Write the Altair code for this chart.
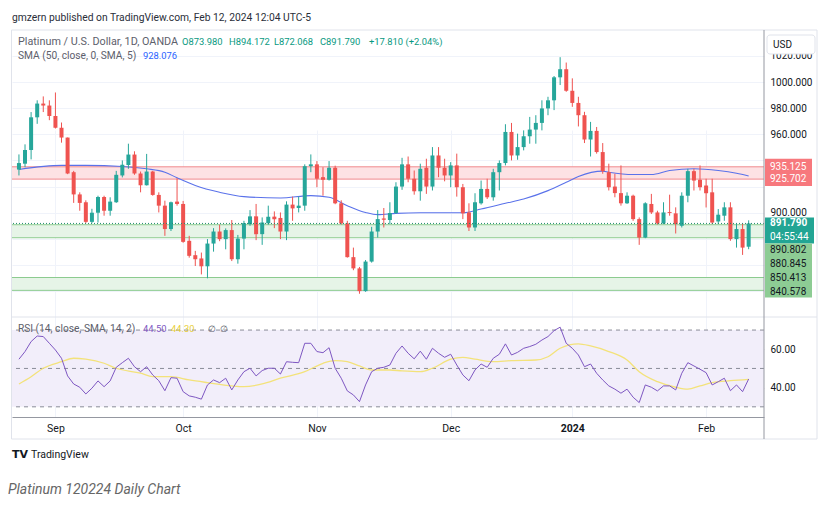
import altair as alt
import pandas as pd

# ---------------- data ----------------
bar_index = list(range(121))
open_ = [933, 937.5, 948, 973, 983.5, 982, 974, 965, 957.5, 931, 914, 908, 893, 900, 912, 901.5,
         908, 928.5, 936.5, 944.5, 930, 921, 931.5, 913.6, 905.4, 887.5, 908.5, 906.7, 878.5, 867.5,
         865, 859, 876.4, 885.6, 879.8, 886.7, 864.4, 880.2, 891.3, 897.2, 883.6, 892, 897, 896,
         885.6, 906.2, 903.6, 905.4, 935.6, 937, 927.2, 925.2, 934.4, 907.2, 891.8, 866, 857.4, 840,
         862.6, 885.6, 895.6, 894.4, 899.8, 920, 937, 926, 916.4, 934.4, 920, 943.8, 934.4, 928.5,
         936.2, 919.5, 900.2, 888.7, 907.2, 918.2, 911.8, 931, 938, 961.8, 943.8, 950.2, 958.5,
         963.6, 968.7, 979.8, 986, 1003.6, 1009.8, 993.3, 984, 974.6, 956, 962.6, 946.4, 931, 920,
         915, 907.2, 913, 895.1, 881, 906.7, 900.2, 891.8, 900.5, 899.5, 890, 913, 931.8, 925.2,
         920.8, 915.6, 893.3, 897.7, 904.1, 879.8, 887.5, 873.98]
high_ = [944.6, 952.3, 977, 986, 989, 986, 992, 969, 957.5, 932, 915.6, 909.5, 903, 913, 913, 911.8,
         932, 940, 952.8, 947, 931.5, 945, 932, 915.6, 909.2, 908.5, 926.4, 909, 882.3, 870.8,
         869.5, 879.8, 888.2, 890.8, 888, 894.4, 883, 893.8, 902, 906.7, 896.4, 905.4, 901, 900.2,
         908.7, 912.3, 912.3, 937, 944.6, 939.5, 934.8, 939.5, 936, 909.5, 893.8, 873.3, 858.5, 863.8,
         889.2, 902, 903.6, 908, 923.3, 942, 943, 932.3, 937.5, 941.3, 950.2, 950.2, 941.3, 938.7,
         945.2, 922, 907.2, 914.9, 924.6, 926, 933.6, 940, 967.7, 968.7, 960.5, 963, 973.3,
         974.6, 986, 988.7, 1004.6, 1019, 1014.9, 1002.8, 988.7, 977.2, 969.5, 965.6, 953.3, 937.5, 929.8,
         936.2, 915.6, 913.8, 896.4, 908, 914.4, 901.5, 908, 913.8, 904.1, 915.6, 933.6, 933.6, 936.2,
         926, 926, 902.8, 908, 908, 891.3, 891.8, 894.172]
low_ = [928.5, 934.8, 940.8, 968, 977, 970.8, 964.4, 953.6, 929.5, 907.5, 901.5, 892, 892, 892.5, 897.7, 897.7,
        907.5, 927, 933.6, 929, 915.6, 920.8, 913, 900.2, 882.3, 886, 905.4, 877, 865.6, 859.2,
        852.8, 849.8, 870.2, 878.2, 872, 863, 861, 872, 890, 879, 875.4, 890.8, 888.2, 879.8,
        879, 893.8, 900.2, 901.5, 931, 919.5, 913, 924.6, 906.5, 891, 865.6, 856, 838, 839.5,
        861.8, 881, 888.7, 891.3, 899, 917.5, 923.3, 913.8, 909.2, 914.4, 917, 927.2, 924, 919.5,
        912.3, 895.1, 886, 886, 906.2, 910.5, 909.2, 917, 936.2, 940, 940.5, 947.7, 952.8,
        952.8, 963, 974.6, 978.5, 997.7, 992.5, 981, 966, 953.3, 943, 945.2, 929.8, 917, 911.8,
        905.4, 906.7, 893.8, 875.4, 880.5, 899, 891, 891.3, 897.7, 884.1, 888.7, 908, 917, 917,
        904, 891.3, 891.3, 893.8, 878.5, 873.3, 867.7, 872.068]
close_ = [938, 948, 973, 983.5, 982, 974, 965, 957.5, 930, 914, 907.5, 893, 900, 912, 901.5, 908.5,
          929, 936.7, 944.5, 930, 921, 931.5, 913.6, 905.4, 887.5, 908, 906.7, 877.7, 867, 864.4,
          859, 876.4, 885.6, 879.8, 886.7, 864.4, 880.2, 892, 897.2, 883.6, 892.5, 897, 895, 885.6,
          906.2, 903.3, 905.4, 935.6, 937, 926, 925.2, 934.4, 907.2, 891.8, 866, 857.4, 840, 862.6,
          885.6, 895.1, 894.6, 899.8, 920, 937, 926, 916.4, 933.6, 920, 943.8, 934.4, 928.5, 936.2,
          919.5, 899.5, 888.7, 908, 918.2, 911.8, 931, 938, 961.8, 943.8, 950.2, 958.5, 963.6,
          968.7, 979.8, 986, 1003.6, 1009.8, 993.3, 984, 974.6, 956, 962.6, 946.4, 931.8, 919.5, 915,
          907.2, 913, 895.1, 881, 907.2, 900.2, 891.8, 900.2, 899.8, 891.3, 913, 931.8, 924.6, 919.5,
          914.9, 892.5, 898.5, 904.1, 879.8, 887.5, 873.3, 891.79]
rsi_ = [54.8, 58.8, 64, 66.9, 66.6, 63.1, 59.6, 55.3, 46.1, 41.9, 40.2, 36.7, 39.7, 43.5, 40.5, 43.5,
        50.6, 53, 55.3, 50.9, 48.3, 50.9, 46.6, 43.6, 38.4, 45.2, 44.9, 37.9, 35.7, 35, 34, 41.4,
        44, 42.6, 44.9, 38.8, 44, 48.3, 50.1, 46.1, 48.9, 50.1, 50.1, 47.1, 53.5, 53.2, 53, 63.1,
        63.1, 58.8, 58.2, 60.8, 50.1, 44.9, 38.3, 36.2, 32.7, 41.4, 48.3, 50.1, 50.6, 51.8, 57.9,
        61.7, 57.9, 55, 59, 54.8, 60.5, 57.9, 55.8, 57.4, 51.8, 46.6, 43.6, 49.2, 52.3, 50.6, 55.3,
        57.4, 62.8, 57, 58.4, 60.5, 61.4, 62.6, 64.8, 66.6, 69.7, 71.5, 63.1, 60.5, 57, 50.9, 52.3,
        47.5, 44, 40.9, 39.2, 37.1, 39.2, 35, 32.2, 41.4, 40.2, 38.3, 40.9, 40.9, 38.8, 47.5, 53,
        51.3, 49.6, 47.8, 41.4, 43.1, 44.9, 38.4, 41.4, 37.9, 44.5]
sma_bar = [0, 7, 11, 17, 21, 24, 26, 29, 33, 37, 43, 48, 51, 54, 57, 59, 62, 66, 73, 76, 80, 83,
           87, 90, 92, 96, 97, 101, 104, 107, 111, 115, 118, 120]
sma_val = [933.1, 936.2, 936.2, 935.4, 933.6, 931, 926.7, 920.8, 915.6, 912.3, 911.3, 913.1, 911.8,
           905.4, 900.2, 898.5, 899.5, 900, 900, 902.8, 907.2, 910.5, 916.9, 923.3, 927.7, 931.8,
           931, 929.2, 929.2, 932.3, 933.6, 932.3, 930.2, 928.076]
rsima_bar = [0, 2, 4, 7, 9, 11, 14, 16, 20, 22, 25, 28, 31, 35, 37, 40, 43, 47, 50, 52, 54, 56, 58,
             61, 63, 66, 68, 71, 73, 75, 78, 81, 85, 87, 89, 92, 94, 97, 100, 102, 105, 108, 110,
             112, 114, 117, 120]
rsima_val = [41.9, 45.7, 50.1, 53.5, 55.3, 54.8, 52.7, 50.1, 47.5, 45.7, 45.7, 44, 42.6, 40.9, 40.5,
             41.9, 44.9, 48.3, 52.7, 54.1, 53.5, 51.3, 49.2, 49.2, 48.7, 48.3, 50.1, 54.8, 55.8, 54.8,
             53.5, 54.1, 54.4, 56.1, 60.5, 62.8, 61.7, 58.8, 54.4, 48.3, 43.1, 40.2, 39.2, 40.9, 42.6,
             43.6, 44.3]
month_bar = [6, 27, 49, 71, 91, 113]
month_name = ["Sep", "Oct", "Nov", "Dec", "2024", "Feb"]
price_ticks = [840, 860, 880, 900, 920, 940, 960, 980, 1000, 1020]
hidden_price_labels = [840, 860, 880, 920, 940]   # covered by the price-scale label boxes
rsi_ticks = [40, 60]
rsi_levels = [70, 50, 30]
red_zone_lo = [925.702]
red_zone_hi = [935.125]
green_zone_lo = [880.845, 840.578]
green_zone_hi = [890.802, 850.413]
last_price = [891.79]
red_labels = ["935.125", "925.702"]
stacked_labels = ["890.802", "880.845", "850.413", "840.578"]

publish_text = "gmzern published on TradingView.com, Feb 12, 2024 12:04 UTC-5"
symbol_text = "Platinum / U.S. Dollar, 1D, OANDA"
ohlc_text = ["O873.980", "H894.172", "L872.068", "C891.790", "+17.810 (+2.04%)"]
sma_text = ["SMA (50, close, 0, SMA, 5)", "928.076"]
rsi_text = ["RSI (14, close, SMA, 14, 2)", "44.50", "44.30", "\u2205", "\u2205"]
countdown = "04:55:44"
caption = "Platinum 120224 Daily Chart"

# ---------------- style ----------------
FONT = "Roboto"
UP, DOWN = "#26a69a", "#ef5350"
W, H = 752, 387
GRID = "#f0f3fa"
FRAME = "#e0e3eb"
DARK = "#9598a1"
NUM = 10          # font size of numbers
HNUM = 9.4        # header numbers
LET = 10.8        # font size of worded texts
LET2 = 10.2

XS = alt.Scale(domain=[-0.32, 121.7], nice=False, zero=False)
label_expr = " : ".join(f"datum.value == {b} ? '{n}'" for b, n in zip(month_bar, month_name)) + " : ''"
XAX = alt.Axis(values=month_bar, labelExpr=label_expr, grid=True, gridColor=GRID, ticks=False,
               tickSize=0, domain=True, domainColor=DARK, labelColor="#131722", labelFont=FONT,
               labelFontSize=10.5, labelPadding=6, title=None, labelBaseline="top",
               labelFontWeight={"condition": {"test": "datum.value == 91", "value": "bold"},
                                "value": "normal"})
PY = alt.Scale(domain=[820.2, 1039.8], range=[287, 0], nice=False, zero=False)
PAX = alt.Axis(orient="right", values=price_ticks, format=".3f", grid=True, gridColor=GRID,
               labelExpr=f"indexof({hidden_price_labels}, datum.value) >= 0 ? '' : datum.label",
               ticks=False, tickSize=0, domain=False, labelPadding=6, labelFont=FONT,
               labelFontSize=NUM, labelColor="#131722", title=None, zindex=0)
RY = alt.Scale(domain=[24.7, 76.8], range=[387, 287], nice=False, zero=False)
RAX = alt.Axis(orient="right", values=rsi_ticks, format=".2f", grid=True, gridColor="#e6e2f0",
               ticks=False, tickSize=0, domain=False, labelPadding=6, labelFont=FONT,
               labelFontSize=NUM, labelColor="#131722", title=None, zindex=0)
X = alt.X("i:Q", scale=XS, axis=XAX)

df = pd.DataFrame({"i": bar_index, "open": open_, "high": high_, "low": low_,
                   "close": close_, "rsi": rsi_})
df["dir"] = ["up" if c >= o else "down" for o, c in zip(open_, close_)]
COL = alt.Color("dir:N", scale=alt.Scale(domain=["up", "down"], range=[UP, DOWN]), legend=None)


def txt(s, x, y, color, size=LET, weight="normal", style="normal", font=FONT, align="left"):
    return alt.Chart(pd.DataFrame({"t": [s]})).mark_text(
        align=align, baseline="middle", font=font, fontSize=size, fontWeight=weight,
        fontStyle=style, color=color).encode(x=alt.value(x), y=alt.value(y), text="t:N")


def rule(x1, x2, y1, y2, color, width=1):
    return alt.Chart(pd.DataFrame({"a": [0]})).mark_rule(color=color, strokeWidth=width).encode(
        x=alt.value(x1), x2=alt.value(x2), y=alt.value(y1), y2=alt.value(y2))


# ---------------- price pane ----------------
red_df = pd.DataFrame({"lo": red_zone_lo, "hi": red_zone_hi})
green_df = pd.DataFrame({"lo": green_zone_lo, "hi": green_zone_hi})
red_rect = alt.Chart(red_df).mark_rect(color="#fde2e4").encode(
    x=alt.value(0), x2=alt.value(W), y=alt.Y("hi:Q", scale=PY, axis=PAX), y2="lo:Q")
green_rect = alt.Chart(green_df).mark_rect(color="#e6f4e7").encode(
    x=alt.value(0), x2=alt.value(W), y=alt.Y("hi:Q", scale=PY, axis=PAX), y2="lo:Q")
red_edges = alt.Chart(pd.DataFrame({"v": red_zone_lo + red_zone_hi})).mark_rule(
    color="#f08a8e", strokeWidth=1).encode(y=alt.Y("v:Q", scale=PY, axis=PAX))
green_edges = alt.Chart(pd.DataFrame({"v": green_zone_lo + green_zone_hi})).mark_rule(
    color="#8ccb8f", strokeWidth=1).encode(y=alt.Y("v:Q", scale=PY, axis=PAX))
last_line = alt.Chart(pd.DataFrame({"v": last_price})).mark_rule(
    color="#1f8a6e", strokeWidth=1, strokeDash=[1, 2]).encode(y=alt.Y("v:Q", scale=PY, axis=PAX))

wicks = alt.Chart(df).mark_rule(strokeWidth=1).encode(
    x=X, y=alt.Y("low:Q", scale=PY, axis=PAX), y2="high:Q", color=COL)
bodies = alt.Chart(df).mark_bar(size=4).encode(
    x=X, y=alt.Y("open:Q", scale=PY, axis=PAX), y2="close:Q", color=COL)
sma_line = alt.Chart(pd.DataFrame({"i": sma_bar, "v": sma_val})).mark_line(
    color="#5a72ea", strokeWidth=1.1, interpolate="monotone").encode(
    x=X, y=alt.Y("v:Q", scale=PY, axis=PAX))

# price-scale labels
red_box = alt.Chart(red_df).mark_rect(color="#f7787d", yOffset=-8, y2Offset=7).encode(
    x=alt.value(753), x2=alt.value(800), y=alt.Y("hi:Q", scale=PY, axis=PAX), y2="lo:Q")
red_txt = alt.Chart(pd.DataFrame({"v": red_zone_hi + red_zone_lo, "t": red_labels})).mark_text(
    align="left", baseline="middle", font=FONT, fontSize=NUM, color="white").encode(
    x=alt.value(758), y=alt.Y("v:Q", scale=PY, axis=PAX), text="t:N")
lp_df = pd.DataFrame({"v": last_price, "t": ["%.3f" % last_price[0]], "c": [countdown]})
teal_box = alt.Chart(lp_df).mark_rect(color="#22a594", yOffset=-6, y2Offset=20).encode(
    x=alt.value(753), x2=alt.value(802), y=alt.Y("v:Q", scale=PY, axis=PAX), y2="v:Q")
green_box = alt.Chart(lp_df).mark_rect(color="#8dcc94", yOffset=20, y2Offset=74).encode(
    x=alt.value(753), x2=alt.value(800), y=alt.Y("v:Q", scale=PY, axis=PAX), y2="v:Q")
lp_txt = alt.Chart(lp_df).mark_text(align="left", baseline="middle", font=FONT, fontSize=NUM,
                                    color="white", fontWeight="bold").encode(
    x=alt.value(758), y=alt.Y("v:Q", scale=PY, axis=PAX), text="t:N")
cd_txt = alt.Chart(lp_df).mark_text(align="left", baseline="middle", font=FONT, fontSize=NUM,
                                    color="white", dy=14).encode(
    x=alt.value(758), y=alt.Y("v:Q", scale=PY, axis=PAX), text="c:N")
stack_txt = [
    alt.Chart(pd.DataFrame({"v": last_price, "t": [s]})).mark_text(
        align="left", baseline="middle", font=FONT, fontSize=NUM, color="#131722",
        dy=27 + 14 * k).encode(x=alt.value(758), y=alt.Y("v:Q", scale=PY, axis=PAX), text="t:N")
    for k, s in enumerate(stacked_labels)]

price = alt.layer(red_rect, green_rect, red_edges, green_edges, sma_line, wicks, bodies, last_line,
                  red_box, red_txt, teal_box, green_box, lp_txt, cd_txt, *stack_txt)

# ---------------- RSI pane ----------------
band = alt.Chart(pd.DataFrame({"hi": [70], "lo": [30]})).mark_rect(color="#f2eefa").encode(
    x=alt.value(0), x2=alt.value(W), y=alt.Y("hi:Q", scale=RY, axis=RAX), y2="lo:Q")
levels = alt.Chart(pd.DataFrame({"v": rsi_levels})).mark_rule(
    color="#8a8d98", strokeWidth=1, strokeDash=[4, 4]).encode(y=alt.Y("v:Q", scale=RY, axis=RAX))
rsi_ma = alt.Chart(pd.DataFrame({"i": rsima_bar, "v": rsima_val})).mark_line(
    color="#f3e27a", strokeWidth=1.3, interpolate="monotone").encode(
    x=X, y=alt.Y("v:Q", scale=RY, axis=RAX))
rsi_line = alt.Chart(df).mark_line(color="#7e57c2", strokeWidth=1).encode(
    x=X, y=alt.Y("rsi:Q", scale=RY, axis=RAX))
rsi = alt.layer(band, levels, rsi_ma, rsi_line)

# ---------------- frame and texts ----------------
G = "#089981"
decor = [
    rule(-0.5, 805, 0, 0, FRAME), rule(-0.5, -0.5, 0, 409, FRAME), rule(805, 805, 0, 409, FRAME),
    rule(-0.5, 805, 409, 409, FRAME), rule(0, 805, 287, 287, FRAME),
    rule(752, 752, 0, 409, DARK),
    alt.Chart(pd.DataFrame({"a": [0]})).mark_rect(color="white", stroke=FRAME, cornerRadius=3).encode(
        x=alt.value(755), x2=alt.value(803), y=alt.value(5), y2=alt.value(24)),
    txt("USD", 761, 14.5, "#131722", size=NUM),
    txt(publish_text, 0, -12, "#2a2e39", size=10.3),
    txt(symbol_text, 6, 12, "#5d606b"),
    txt(ohlc_text[0], 170, 12, G, size=HNUM), txt(ohlc_text[1], 217, 12, G, size=HNUM),
    txt(ohlc_text[2], 262, 12, G, size=HNUM), txt(ohlc_text[3], 308, 12, G, size=HNUM),
    txt(ohlc_text[4], 357, 12, G, size=HNUM),
    txt(sma_text[0], 6, 26, "#5d606b", size=LET2), txt(sma_text[1], 131, 26, "#2962ff", size=HNUM),
    txt(rsi_text[0], 6, 299, "#5d606b", size=LET2), txt(rsi_text[1], 131, 299, "#7e57c2", size=HNUM),
    txt(rsi_text[2], 159, 299, "#e8cf3a", size=HNUM), txt(rsi_text[3], 196, 299, "#5d606b", size=HNUM),
    txt(rsi_text[4], 208, 299, "#5d606b", size=HNUM),
    txt("TV", 0, 424.5, "#131722", size=11, weight=900, font="DejaVu Sans"),
    txt("TradingView", 19, 424.5, "#131722", size=10.5),
    txt(caption, -4, 460, "#666666", size=14, style="italic"),
]

chart = alt.layer(price, rsi, *decor).resolve_scale(y="independent").properties(
    width=W, height=H, autosize=alt.AutoSizeParams(type="none"),
    padding={"left": 4, "top": 22, "right": 59, "bottom": 83},
    background="white").configure_view(stroke=None)

chart.save("out.html", embed_options={"renderer": "svg", "actions": False})
